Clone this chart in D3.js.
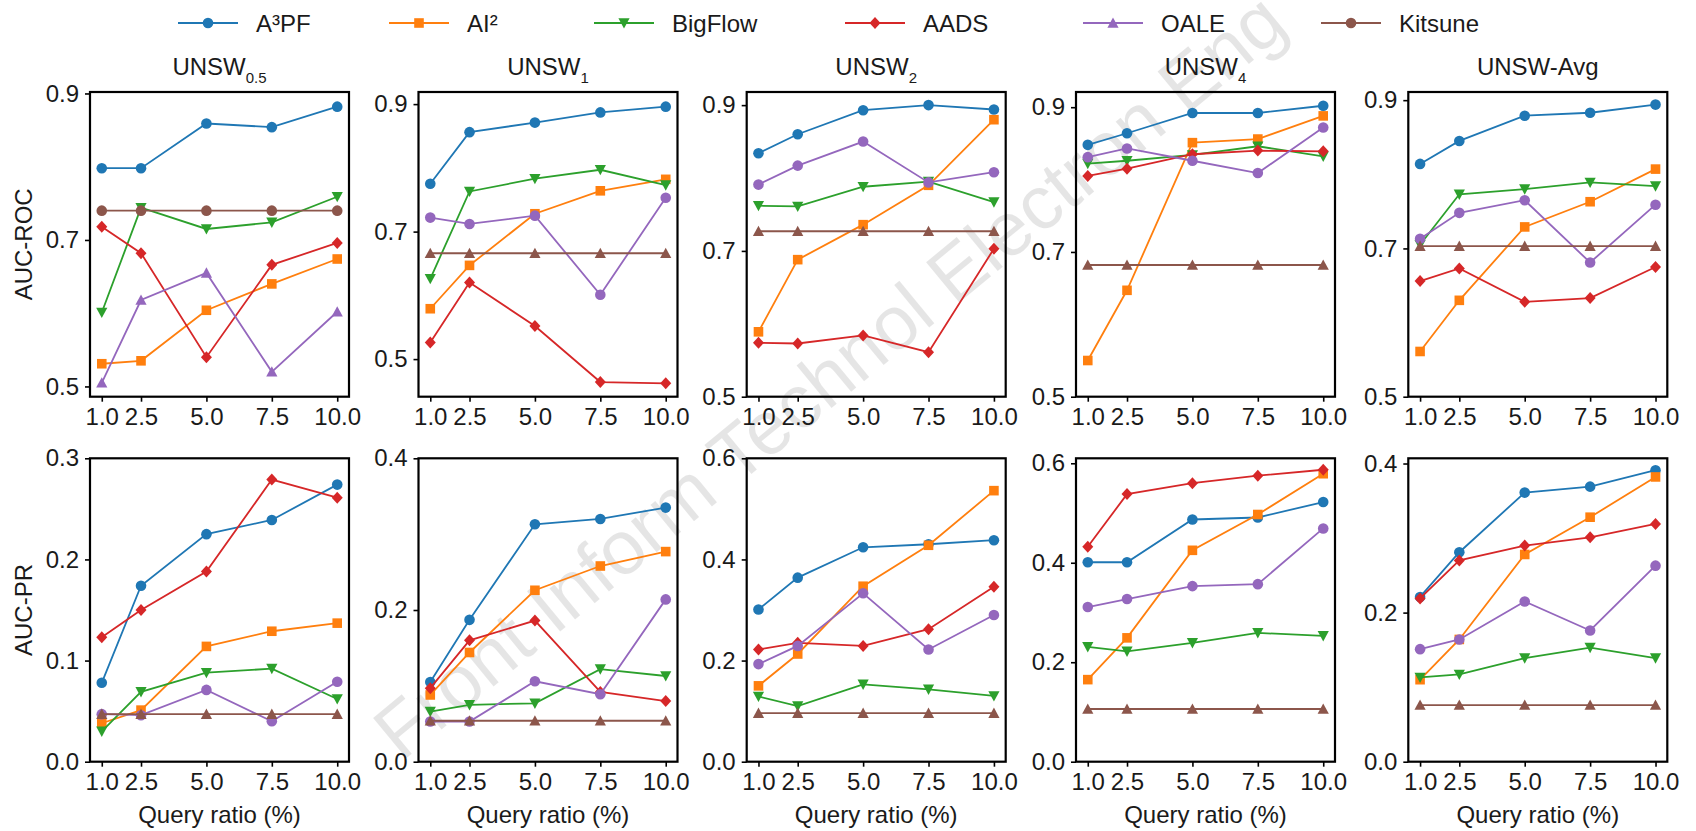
<!DOCTYPE html>
<html>
<head>
<meta charset="utf-8">
<script src="https://cdn.jsdelivr.net/npm/d3@7"></script>
<style>
  body { margin: 0; background: #fff; }
  text { font-family: "Liberation Sans", Arial, sans-serif; fill: #1a1a1a; }
</style>
</head>
<body>
<div id="chart"></div>
<script>
// x axis: query ratio (%)
var ratios = [1.0, 2.5, 5.0, 7.5, 10.0];
var methods = ["A³PF", "AI²", "BigFlow", "AADS", "OALE", "Kitsune"];
var titles = ["0.5", "1", "2", "4", "Avg"];

// AUC-ROC, one row per method (A3PF, AI2, BigFlow, AADS, OALE, Kitsune)
var roc_05 = [
  [0.798, 0.798, 0.859, 0.854, 0.882],
  [0.531, 0.535, 0.604, 0.640, 0.674],
  [0.601, 0.744, 0.715, 0.724, 0.759],
  [0.718, 0.682, 0.540, 0.666, 0.696],
  [0.505, 0.618, 0.655, 0.520, 0.602],
  [0.740, 0.740, 0.740, 0.740, 0.740]
];
var roc_1 = [
  [0.775, 0.856, 0.871, 0.887, 0.896],
  [0.579, 0.647, 0.728, 0.764, 0.782],
  [0.626, 0.763, 0.783, 0.797, 0.773],
  [0.526, 0.620, 0.552, 0.464, 0.462],
  [0.722, 0.712, 0.725, 0.601, 0.753],
  [0.666, 0.666, 0.666, 0.666, 0.666]
];
var roc_2 = [
  [0.834, 0.860, 0.893, 0.900, 0.894],
  [0.589, 0.688, 0.736, 0.790, 0.880],
  [0.762, 0.761, 0.788, 0.795, 0.767],
  [0.574, 0.573, 0.584, 0.561, 0.703],
  [0.791, 0.817, 0.850, 0.794, 0.808],
  [0.727, 0.727, 0.727, 0.727, 0.727]
];
var roc_4 = [
  [0.848, 0.864, 0.892, 0.892, 0.902],
  [0.550, 0.647, 0.851, 0.856, 0.888],
  [0.822, 0.826, 0.834, 0.846, 0.832],
  [0.805, 0.815, 0.835, 0.840, 0.839],
  [0.831, 0.843, 0.826, 0.809, 0.872],
  [0.682, 0.682, 0.682, 0.682, 0.682]
];
var roc_avg = [
  [0.814, 0.845, 0.879, 0.883, 0.894],
  [0.561, 0.630, 0.729, 0.763, 0.807],
  [0.705, 0.773, 0.780, 0.789, 0.784],
  [0.656, 0.673, 0.628, 0.633, 0.675],
  [0.713, 0.748, 0.765, 0.681, 0.759],
  [0.703, 0.703, 0.703, 0.703, 0.703]
];

// AUC-PR
var pr_05 = [
  [0.078, 0.174, 0.225, 0.239, 0.274],
  [0.038, 0.051, 0.114, 0.129, 0.137],
  [0.030, 0.069, 0.088, 0.092, 0.062],
  [0.123, 0.150, 0.188, 0.279, 0.261],
  [0.047, 0.046, 0.071, 0.040, 0.079],
  [0.047, 0.047, 0.047, 0.047, 0.047]
];
var pr_1 = [
  [0.105, 0.187, 0.313, 0.320, 0.335],
  [0.088, 0.144, 0.226, 0.258, 0.277],
  [0.066, 0.075, 0.077, 0.122, 0.113],
  [0.097, 0.160, 0.186, 0.092, 0.080],
  [0.053, 0.053, 0.106, 0.089, 0.214],
  [0.054, 0.054, 0.054, 0.054, 0.054]
];
var pr_2 = [
  [0.301, 0.364, 0.424, 0.430, 0.438],
  [0.150, 0.213, 0.347, 0.428, 0.536],
  [0.129, 0.110, 0.153, 0.143, 0.130],
  [0.222, 0.235, 0.229, 0.262, 0.346],
  [0.193, 0.229, 0.333, 0.222, 0.290],
  [0.096, 0.096, 0.096, 0.096, 0.096]
];
var pr_4 = [
  [0.401, 0.401, 0.487, 0.491, 0.522],
  [0.165, 0.249, 0.425, 0.497, 0.579],
  [0.231, 0.222, 0.239, 0.259, 0.253],
  [0.432, 0.538, 0.560, 0.575, 0.587],
  [0.311, 0.327, 0.353, 0.357, 0.469],
  [0.106, 0.106, 0.106, 0.106, 0.106]
];
var pr_avg = [
  [0.221, 0.281, 0.361, 0.369, 0.391],
  [0.110, 0.164, 0.278, 0.328, 0.382],
  [0.113, 0.117, 0.139, 0.153, 0.139],
  [0.219, 0.270, 0.290, 0.301, 0.319],
  [0.151, 0.164, 0.215, 0.176, 0.263],
  [0.076, 0.076, 0.076, 0.076, 0.076]
];

// tick labels
var rocTicks = [0.5, 0.7, 0.9];
var prTicks = [[0, 0.1, 0.2, 0.3], [0, 0.2, 0.4], [0, 0.2, 0.4, 0.6], [0, 0.2, 0.4, 0.6], [0, 0.2, 0.4]];

// styles
var colors = ["#1f77b4", "#ff7f0e", "#2ca02c", "#d62728", "#9467bd", "#8c564b"];
var shapes = ["circle", "square", "tridown", "diamond", "circle", "triup"];
var shapesFirst = ["circle", "square", "tridown", "diamond", "triup", "circle"]; // first panel and legend

var width = 1696, height = 831;
var colLeft = [90, 418.5, 746.7, 1076, 1408.3];
var axW = 259;
var rows = [
  {top: 92, bottom: 396.7, label: "AUC-ROC", data: [roc_05, roc_1, roc_2, roc_4, roc_avg],
   dom: [[0.486, 0.902], [0.441, 0.919], [0.5, 0.918], [0.5, 0.921], [0.5, 0.911]]},
  {top: 458.3, bottom: 761.7, label: "AUC-PR", data: [pr_05, pr_1, pr_2, pr_4, pr_avg],
   dom: [[0, 0.3], [0, 0.4], [0, 0.6], [0, 0.61], [0, 0.407]]}
];

function marker(shape) {
  if (shape == "circle") return "M5.3,0A5.3,5.3 0 1,1 -5.3,0A5.3,5.3 0 1,1 5.3,0Z";
  if (shape == "square") return "M-4.8,-4.8H4.8V4.8H-4.8Z";
  if (shape == "tridown") return "M-5.6,-4.8L5.6,-4.8L0,5.6Z";
  if (shape == "triup") return "M0,-5.6L5.6,4.8L-5.6,4.8Z";
  if (shape == "diamond") return "M0,-6L5.5,0L0,6L-5.5,0Z";
}

var svg = d3.select("#chart").append("svg")
  .attr("width", width)
  .attr("height", height);

// watermark (drawn first, faint)
svg.append("text")
  .attr("transform", "translate(846,396) rotate(-39.5)")
  .attr("text-anchor", "middle")
  .attr("font-size", 76)
  .style("fill", "#000")
  .style("fill-opacity", 0.1)
  .text("Front Inform Technol Electron Eng");

rows.forEach(function(row, r) {
  for (var c = 0; c < 5; c++) {
    var left = colLeft[c];
    var x = d3.scaleLinear().domain([0.55, 10.45]).range([left, left + axW]);
    var y = d3.scaleLinear().domain(row.dom[c]).range([row.bottom, row.top]);
    var g = svg.append("g");

    var yt = r == 0 ? rocTicks : prTicks[c];

    // Y axis
    g.append("g")
      .attr("transform", "translate(" + left + ",0)")
      .call(d3.axisLeft(y).tickValues(yt).tickSize(5).tickPadding(6).tickFormat(d3.format(".1f")))
      .call(function(a) {
        a.select(".domain").remove();
        a.selectAll("line").attr("stroke", "#000").attr("stroke-width", 1.6);
        a.selectAll("text").attr("font-size", 24).attr("fill", "#1a1a1a")
          .attr("font-family", "Liberation Sans, Arial, sans-serif");
      });

    // X axis
    g.append("g")
      .attr("transform", "translate(0," + row.bottom + ")")
      .call(d3.axisBottom(x).tickValues(ratios).tickSize(5).tickPadding(6).tickFormat(d3.format(".1f")))
      .call(function(a) {
        a.select(".domain").remove();
        a.selectAll("line").attr("stroke", "#000").attr("stroke-width", 1.6);
        a.selectAll("text").attr("font-size", 24).attr("fill", "#1a1a1a")
          .attr("font-family", "Liberation Sans, Arial, sans-serif");
      });

    var sh = (r == 0 && c == 0) ? shapesFirst : shapes;
    var line = d3.line().x(function(d, i) { return x(ratios[i]); }).y(function(d) { return y(d); });

    row.data[c].forEach(function(vals, m) {
      g.append("path")
        .attr("d", line(vals))
        .attr("fill", "none")
        .attr("stroke", colors[m])
        .attr("stroke-width", 1.8);
      g.selectAll(".mk" + m)
        .data(vals)
        .enter().append("path")
        .attr("class", "mk" + m)
        .attr("d", marker(sh[m]))
        .attr("transform", function(d, i) { return "translate(" + x(ratios[i]) + "," + y(d) + ")"; })
        .attr("fill", colors[m]);
    });

    // frame
    g.append("rect")
      .attr("x", left).attr("y", row.top)
      .attr("width", axW).attr("height", row.bottom - row.top)
      .attr("fill", "none").attr("stroke", "#000").attr("stroke-width", 2.2);

    if (r == 0) {
      var t = svg.append("text")
        .attr("x", left + axW / 2)
        .attr("y", 75)
        .attr("text-anchor", "middle")
        .attr("font-size", 24);
      if (titles[c] == "Avg") {
        t.text("UNSW-Avg");
      } else {
        t.append("tspan").text("UNSW");
        t.append("tspan").attr("font-size", 15).attr("dy", 8).text(titles[c]);
      }
    } else {
      svg.append("text")
        .attr("x", left + axW / 2)
        .attr("y", 823)
        .attr("text-anchor", "middle")
        .attr("font-size", 24)
        .text("Query ratio (%)");
    }
  }

  svg.append("text")
    .attr("transform", "translate(32," + (row.top + row.bottom) / 2 + ") rotate(-90)")
    .attr("text-anchor", "middle")
    .attr("font-size", 24)
    .text(row.label);
});

// legend
var legX = [178, 389, 594, 845, 1083, 1321];
methods.forEach(function(name, m) {
  var lg = svg.append("g").attr("transform", "translate(" + legX[m] + ",23)");
  lg.append("line").attr("x1", 0).attr("x2", 60).attr("y1", 0).attr("y2", 0)
    .attr("stroke", colors[m]).attr("stroke-width", 1.8);
  lg.append("path").attr("d", marker(shapesFirst[m])).attr("transform", "translate(30,0)")
    .attr("fill", colors[m]);
  lg.append("text").attr("x", 78).attr("y", 8.5).attr("font-size", 24).text(name);
});
</script>
</body>
</html>
